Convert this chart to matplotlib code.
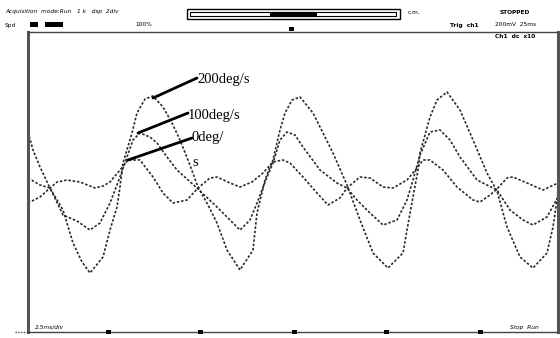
import matplotlib
matplotlib.use("Agg")
import matplotlib.pyplot as plt
from matplotlib.patches import Rectangle

# ---- data (time in ms, signal in arbitrary units) ----
t_200 = [0.0, 0.5, 1.2, 2.2, 3.5, 4.5, 5.4, 6.2, 7.5, 8.2, 8.9, 9.2, 9.5, 10.4, 10.9, 11.7, 12.5,
         13.5, 14.4, 15.2, 16.0, 17.0, 18.0, 18.9, 19.9, 21.2, 22.5, 22.9, 23.7, 24.2, 24.5, 25.2,
         25.7, 26.4, 27.2, 28.5, 29.5, 30.5, 31.9, 33.2, 34.5, 36.0, 37.5, 37.9, 38.5, 39.0, 39.2,
         40.2, 40.9, 41.9, 43.2, 44.5, 45.9, 46.9, 47.9, 49.2, 50.5, 51.9, 52.5, 53.0]
y_200 = [56, 38, 21, 0, -22, -55, -74, -85, -69, -42, -19, 1, 25, 55, 75, 89, 92,
         81, 65, 48, 28, 1, -17, -35, -62, -82, -62, -25, 8, 21, 28, 58,
         75, 88, 91, 75, 55, 35, 3, -32, -65, -80, -65, -42, -9, 18, 35,
         71, 88, 96, 78, 48, 15, -3, -39, -69, -80, -65, -39, -5]

t_100 = [0.0, 1.2, 2.2, 3.5, 4.9, 6.2, 7.2, 8.2, 9.2, 9.9, 10.5, 11.2, 12.2, 12.9, 13.9, 14.9,
         16.9, 18.9, 20.2, 21.2, 22.2, 22.9, 23.9, 24.5, 25.2, 25.9, 26.7, 27.5, 29.2, 30.9,
         31.9, 32.9, 34.2, 35.5, 36.9, 37.9, 38.5, 39.2, 40.2, 41.2, 42.2, 43.2, 44.9, 46.9,
         48.2, 49.5, 50.5, 51.9, 53.0]
y_100 = [10, 3, 0, -27, -33, -42, -35, -15, 11, 31, 48, 55, 51, 45, 31, 18,
         0, -19, -32, -42, -32, -15, 11, 25, 48, 56, 53, 41, 18, 5,
         0, -12, -25, -37, -32, -12, 8, 33, 56, 58, 48, 31, 8, -2,
         -22, -32, -37, -29, -9]

t_0 = [0.0, 1.2, 2.2, 2.9, 3.9, 5.2, 6.7, 7.5, 8.2, 9.2, 10.0, 11.2, 12.5, 13.5, 14.5, 15.9,
       17.0, 18.2, 18.9, 20.2, 21.2, 22.4, 23.5, 24.5, 25.5, 26.2, 27.5, 28.9, 30.0, 31.2,
       31.9, 33.2, 34.2, 35.5, 36.5, 37.9, 38.9, 39.5, 40.2, 41.5, 42.9, 44.5, 45.2, 46.2,
       46.9, 47.9, 48.5, 49.9, 51.5, 53.0]
y_0 = [-15, -9, 0, 6, 8, 6, 0, 2, 6, 18, 28, 28, 11, -5, -15, -12,
       0, 10, 11, 5, 1, 6, 15, 26, 28, 25, 11, -5, -17, -10,
       0, 11, 10, 1, 0, 8, 20, 28, 28, 18, 1, -12, -14, -7,
       -1, 10, 11, 5, -2, 5]

labels = ["200deg/s", "100deg/s", "0deg/", "s"]

fig = plt.figure(figsize=(5.6, 3.38), dpi=100)
W, H = 560, 338
L, R, T, B = 28, 558, 32, 332
ax = fig.add_axes([L / W, 1 - B / H, (R - L) / W, (B - T) / H])
ax.set_xlim(0, 53)
ax.set_ylim(-144, 156)

ls = (0, (1.5, 1.1))
for t, y in [(t_200, y_200), (t_100, y_100), (t_0, y_0)]:
    ax.plot(t, y, color="#2a2a2a", lw=1.2, linestyle=ls)

# leader lines (from curve peak to label)
leaders = [((12.5, 90), (16.9, 110)),
           ((11.0, 55), (16.0, 75)),
           ((10.0, 28), (16.4, 50))]
for xy, xyend in leaders:
    ax.annotate("", xy=xy, xytext=xyend,
                arrowprops=dict(arrowstyle="-", color="black", lw=2.0,
                                shrinkA=0, shrinkB=0))

tkw = dict(fontsize=10.5, family="Liberation Serif", va="center", ha="left")
ax.text(16.9, 109, labels[0], **tkw)
ax.text(16.0, 73, labels[1], **tkw)
ax.text(16.3, 51, labels[2], **tkw)
ax.text(16.4, 26, labels[3], **tkw)

ax.set_xticks([])
ax.set_yticks([])
for s in ["left", "right"]:
    ax.spines[s].set_linestyle((0, (1, 1)))
    ax.spines[s].set_linewidth(2.2)
    ax.spines[s].set_color("#555555")
for s in ["top", "bottom"]:
    ax.spines[s].set_linestyle((0, (1, 1)))
    ax.spines[s].set_linewidth(1.0)
    ax.spines[s].set_color("#444444")

# overlay for header/footer decorations (figure pixel coordinates)
ov = fig.add_axes([0, 0, 1, 1], facecolor="none")
ov.set_xlim(0, W)
ov.set_ylim(H, 0)
ov.axis("off")

small = dict(fontsize=4.2, family="DejaVu Sans", va="center", color="black")
ov.text(5, 12, "Acquisition  mode:Run   1 k   dsp  2div", style="italic", **small)
ov.text(5, 25, "Spd", **small)
ov.text(135, 25, "100%", **small)
ov.text(408, 13, "c.m.", **small)
ov.text(500, 12, "STOPPED", fontweight="bold", **small)
ov.text(450, 25, "Trig  ch1", fontweight="bold", **small)
ov.text(495, 25, "200mV  25ms", **small)
ov.text(495, 37, "Ch1  dc  x10", fontweight="bold", **small)
ov.text(35, 327, "2.5ms/div", style="italic", **small)
ov.text(510, 327, "Stop  Run", style="italic", **small)

# scroll bar
ov.add_patch(Rectangle((187, 9), 213, 10, fill=False, ec="black", lw=1.0))
ov.add_patch(Rectangle((190, 12), 206, 4, fill=False, ec="black", lw=0.8))
ov.add_patch(Rectangle((270, 12), 46, 4, fc="black", ec="black", lw=0.8))
# trigger marker and black blocks
ov.add_patch(Rectangle((30, 22), 8, 5, fc="black"))
ov.add_patch(Rectangle((45, 22), 18, 5, fc="black"))
ov.add_patch(Rectangle((289, 27), 5, 4, fc="black"))
# bottom baseline extension and tick blocks
ov.plot([15, L], [B, B], color="#444444", lw=1.0, linestyle=(0, (1, 1)))
for bx in [106, 198, 292, 384, 478]:
    ov.add_patch(Rectangle((bx, B - 2), 5, 4, fc="black"))

fig.savefig("out.png", dpi=100)
